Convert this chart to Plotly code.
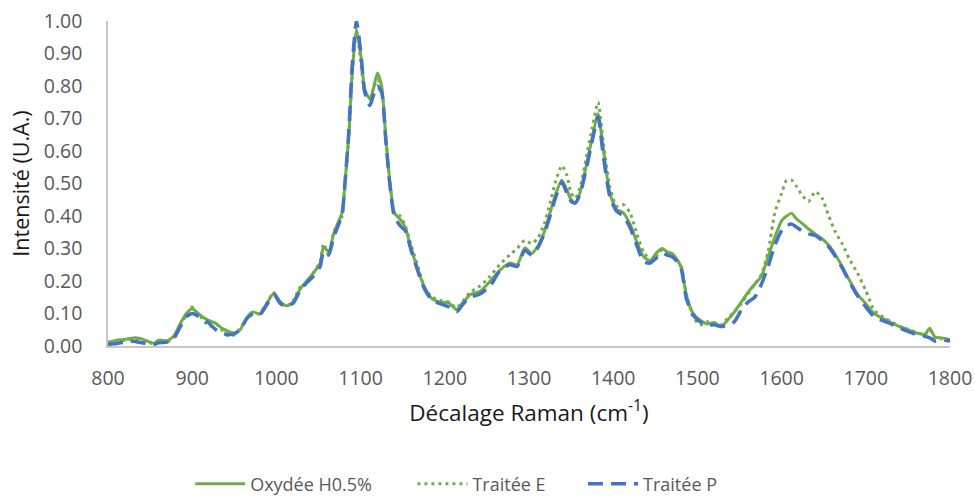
import plotly.graph_objects as go

# Raman shift grid (cm-1)
shift = [800, 810, 820, 830, 840, 850, 855, 860, 870, 878, 885, 893, 900, 905, 912, 920, 928, 935, 943, 950,
         957, 965, 972, 980, 988, 997, 1005, 1012, 1020, 1028, 1036, 1044, 1052, 1056, 1062, 1068, 1074, 1078,
         1082, 1086, 1090, 1095, 1100, 1105, 1111, 1115, 1120, 1125, 1130, 1135, 1140, 1147, 1153, 1160, 1168,
         1176, 1185, 1195, 1205, 1214, 1222, 1230, 1242, 1254, 1265, 1277, 1286, 1295, 1303, 1310, 1318, 1325,
         1332, 1339, 1345, 1350, 1355, 1361, 1368, 1375, 1382, 1388, 1396, 1404, 1412, 1420, 1428, 1436, 1444,
         1451, 1458, 1464, 1470, 1476, 1481, 1487, 1495, 1503, 1512, 1520, 1528, 1536, 1544, 1552, 1560, 1568,
         1576, 1584, 1592, 1600, 1606, 1612, 1618, 1624, 1632, 1640, 1648, 1656, 1664, 1672, 1680, 1690, 1700,
         1710, 1720, 1730, 1740, 1750, 1760, 1770, 1776, 1782, 1790, 1800]

oxydee = [0.010, 0.018, 0.020, 0.025, 0.022, 0.012, 0.008, 0.018, 0.016, 0.030, 0.065, 0.100, 0.115, 0.105,
          0.090, 0.078, 0.070, 0.055, 0.045, 0.040, 0.050, 0.088, 0.105, 0.098, 0.128, 0.162, 0.135, 0.124,
          0.135, 0.175, 0.200, 0.225, 0.255, 0.305, 0.290, 0.345, 0.385, 0.410, 0.520, 0.650, 0.840, 0.975,
          0.900, 0.790, 0.760, 0.790, 0.840, 0.800, 0.640, 0.500, 0.410, 0.390, 0.365, 0.300, 0.235, 0.180,
          0.145, 0.135, 0.132, 0.112, 0.135, 0.158, 0.168, 0.200, 0.232, 0.255, 0.250, 0.302, 0.285, 0.305,
          0.350, 0.410, 0.470, 0.510, 0.480, 0.450, 0.440, 0.475, 0.555, 0.640, 0.715, 0.610, 0.470, 0.420,
          0.410, 0.375, 0.320, 0.275, 0.262, 0.285, 0.300, 0.290, 0.285, 0.265, 0.240, 0.155, 0.100, 0.080,
          0.068, 0.072, 0.060, 0.080, 0.105, 0.135, 0.165, 0.190, 0.215, 0.275, 0.335, 0.385, 0.400, 0.408,
          0.390, 0.378, 0.360, 0.345, 0.330, 0.310, 0.280, 0.245, 0.205, 0.160, 0.130, 0.100, 0.085, 0.072,
          0.060, 0.050, 0.040, 0.036, 0.055, 0.028, 0.025, 0.020]

traitee_e = [0.012, 0.015, 0.018, 0.020, 0.018, 0.010, 0.005, 0.020, 0.012, 0.028, 0.060, 0.095, 0.120, 0.100,
             0.085, 0.060, 0.068, 0.050, 0.030, 0.035, 0.055, 0.085, 0.100, 0.100, 0.130, 0.165, 0.130, 0.122,
             0.140, 0.180, 0.195, 0.225, 0.260, 0.315, 0.280, 0.350, 0.380, 0.400, 0.510, 0.640, 0.830, 0.970,
             0.880, 0.780, 0.760, 0.790, 0.820, 0.790, 0.640, 0.500, 0.410, 0.400, 0.370, 0.310, 0.245, 0.180,
             0.150, 0.140, 0.135, 0.118, 0.140, 0.165, 0.185, 0.215, 0.250, 0.280, 0.300, 0.325, 0.315, 0.330,
             0.375, 0.440, 0.510, 0.555, 0.525, 0.470, 0.455, 0.490, 0.580, 0.670, 0.750, 0.630, 0.490, 0.430,
             0.435, 0.410, 0.345, 0.290, 0.265, 0.275, 0.295, 0.285, 0.280, 0.265, 0.245, 0.160, 0.090, 0.065,
             0.075, 0.068, 0.065, 0.085, 0.105, 0.130, 0.160, 0.190, 0.220, 0.290, 0.410, 0.470, 0.510, 0.510,
             0.490, 0.465, 0.445, 0.475, 0.455, 0.400, 0.350, 0.315, 0.270, 0.225, 0.170, 0.110, 0.090, 0.075,
             0.060, 0.052, 0.042, 0.035, 0.050, 0.025, 0.022, 0.020]

traitee_p = [0.005, 0.008, 0.012, 0.015, 0.010, 0.005, 0.005, 0.010, 0.012, 0.022, 0.055, 0.090, 0.100, 0.095,
             0.085, 0.070, 0.050, 0.040, 0.035, 0.038, 0.050, 0.085, 0.098, 0.095, 0.125, 0.158, 0.130, 0.122,
             0.132, 0.170, 0.195, 0.215, 0.245, 0.290, 0.280, 0.335, 0.375, 0.405, 0.520, 0.660, 0.860, 1.000,
             0.910, 0.780, 0.740, 0.770, 0.800, 0.780, 0.630, 0.490, 0.400, 0.370, 0.355, 0.295, 0.230, 0.175,
             0.140, 0.130, 0.120, 0.105, 0.130, 0.150, 0.160, 0.185, 0.230, 0.250, 0.245, 0.295, 0.280, 0.300,
             0.345, 0.400, 0.460, 0.505, 0.470, 0.445, 0.440, 0.470, 0.545, 0.630, 0.705, 0.590, 0.460, 0.415,
             0.400, 0.365, 0.310, 0.260, 0.255, 0.270, 0.285, 0.280, 0.275, 0.260, 0.235, 0.145, 0.095, 0.075,
             0.065, 0.065, 0.060, 0.065, 0.075, 0.110, 0.135, 0.150, 0.190, 0.245, 0.310, 0.355, 0.370, 0.375,
             0.365, 0.355, 0.345, 0.340, 0.325, 0.305, 0.275, 0.240, 0.200, 0.155, 0.120, 0.090, 0.078, 0.068,
             0.055, 0.045, 0.035, 0.030, 0.025, 0.015, 0.018, 0.015]

GREEN = "#70AD47"
BLUE = "#4472C4"
GREY_TXT = "#595959"
TITLE_TXT = "#1a1a1a"
FONT = "Open Sans"

fig = go.Figure()
fig.add_trace(go.Scatter(x=shift, y=oxydee, mode="lines", name="Oxydée H0.5%", legend="legend",
                         line=dict(color=GREEN, width=3, shape="spline", smoothing=0.6)))
fig.add_trace(go.Scatter(x=shift, y=traitee_e, mode="lines", name="Traitée E", legend="legend2",
                         line=dict(color=GREEN, width=3, dash="3px,4px", shape="spline", smoothing=0.6)))
fig.add_trace(go.Scatter(x=shift, y=traitee_p, mode="lines", name="Traitée P", legend="legend3",
                         line=dict(color=BLUE, width=3.5, dash="15px,8px", shape="spline", smoothing=0.6)))


def legend_box(x_left):
    # one legend per series, laid out in a single row under the x-axis title
    return dict(orientation="h", x=x_left, xanchor="left", xref="container",
                y=0.026, yanchor="middle", yref="container",
                font=dict(size=18, color=GREY_TXT), itemwidth=50)


fig.update_layout(
    width=975, height=497,
    margin=dict(l=108, r=25, t=21, b=151, autoexpand=False),
    paper_bgcolor="white", plot_bgcolor="white",
    font=dict(family=FONT, color=GREY_TXT, size=18),
    showlegend=True,
    legend=legend_box(0.195),
    legend2=legend_box(0.423),
    legend3=legend_box(0.598),
)
fig.update_xaxes(range=[800, 1800], tickmode="linear", tick0=800, dtick=100, automargin=False,
                 showgrid=False, zeroline=False, showline=True, linecolor="#C8C8C8", linewidth=1.5,
                 ticks="", ticklabelstandoff=14, tickfont=dict(size=19.5, color=GREY_TXT),
                 title=dict(text="Décalage Raman (cm<sup>-1</sup>)", font=dict(size=22.5, color=TITLE_TXT),
                            standoff=15))
fig.update_yaxes(range=[0, 1.0], tickmode="linear", tick0=0, dtick=0.1, tickformat=".2f", automargin=False,
                 showgrid=False, zeroline=False, showline=True, linecolor="#C8C8C8", linewidth=1.5,
                 ticks="", ticklabelstandoff=20, tickfont=dict(size=19.5, color=GREY_TXT),
                 title=dict(text="Intensité (U.A.)", font=dict(size=21.5, color=TITLE_TXT), standoff=8))

fig.write_html("out.html")
